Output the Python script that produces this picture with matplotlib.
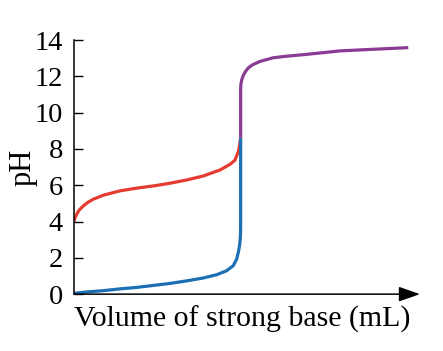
import matplotlib
matplotlib.use("Agg")
import matplotlib.pyplot as plt

# --- valeurs (volume en mL, pH) ---
vol_red = [0.0, 0.2, 0.8, 1.6, 2.8, 4.2, 5.8, 8.8, 13.8, 18.8, 23.8, 28.8,
           33.8, 38.8, 43.8, 46.8, 48.3, 49.3, 49.7, 50.0]
ph_red = [4.0, 4.15, 4.4, 4.64, 4.86, 5.06, 5.23, 5.45, 5.69, 5.84, 5.96,
          6.11, 6.29, 6.51, 6.84, 7.15, 7.38, 7.85, 8.2, 8.62]

vol_blue = [0.0, 0.3, 3.8, 8.8, 13.8, 18.8, 23.8, 28.8, 33.8, 38.8, 42.8,
            45.8, 47.8, 48.8, 49.3, 49.7, 49.9, 50.0, 50.0]
ph_blue = [0.0, 0.05, 0.12, 0.19, 0.29, 0.37, 0.48, 0.59, 0.73, 0.89, 1.07,
           1.29, 1.57, 1.93, 2.3, 2.7, 3.1, 3.6, 8.62]

vol_purple = [50.0, 50.0, 50.1, 50.4, 50.8, 51.5, 52.3, 53.5, 55.8, 59.7,
              63.3, 69.8, 79.8, 89.8, 100.3]
ph_purple = [8.62, 11.3, 11.6, 11.85, 12.05, 12.28, 12.46, 12.63, 12.82,
             13.02, 13.1, 13.21, 13.4, 13.49, 13.58]

yticks = [0, 2, 4, 6, 8, 10, 12, 14]

plt.rcParams['font.family'] = ['Liberation Serif', 'DejaVu Serif']

fig = plt.figure(figsize=(4.43, 3.51), dpi=100)
ax = fig.add_axes([0.167, 0.162, 0.781, 0.724])

ax.plot(vol_red, ph_red, color='#e53b30', lw=2.3, solid_capstyle='butt')
ax.plot(vol_blue, ph_blue, color='#1c6fb3', lw=2.3, solid_capstyle='butt')
ax.plot(vol_purple, ph_purple, color='#8a3b94', lw=2.3, solid_capstyle='butt')

ax.set_xlim(0, 103.8)
ax.set_ylim(0, 14)
ax.set_yticks(yticks)
ax.set_xticks([])
ax.tick_params(axis='y', direction='in', length=6.5, width=1.0,
               labelsize=20.5, pad=8)

for s in ['top', 'right', 'bottom']:
    ax.spines[s].set_visible(False)
ax.spines['left'].set_linewidth(1.1)

# axe horizontal avec flèche
ax.annotate('', xy=(1.0, 0), xytext=(0, 0), xycoords='axes fraction',
            arrowprops=dict(arrowstyle='-|>,head_length=1.0,head_width=0.35',
                            color='black', lw=1.1, shrinkA=0, shrinkB=0,
                            mutation_scale=13),
            annotation_clip=False)

ax.set_ylabel('pH', fontsize=22, labelpad=-2)
ax.set_xlabel('Volume of strong base (mL)', fontsize=21.5, loc='left',
              labelpad=8)

fig.savefig('out.png', dpi=100)
